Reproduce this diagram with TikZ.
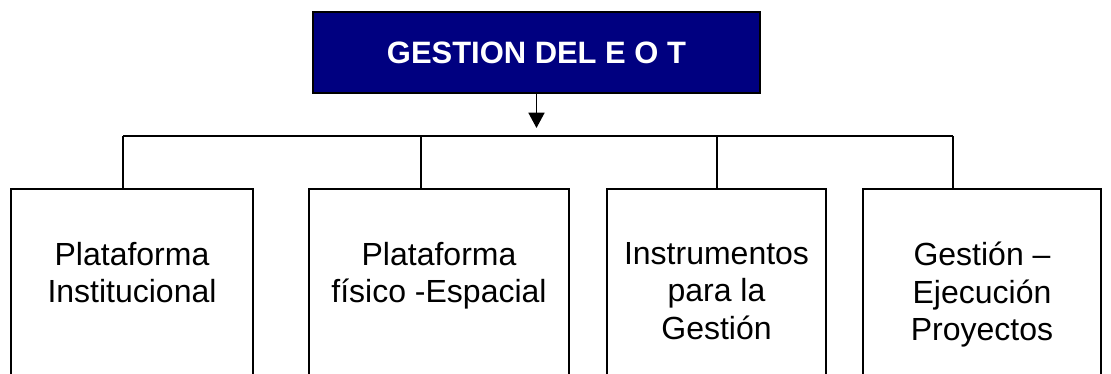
\documentclass[tikz,border=0pt]{standalone}
\usepackage{fontspec}
\setmainfont{Liberation Sans}
\usetikzlibrary{arrows.meta}
\definecolor{navy}{RGB}{0,0,128}

\begin{document}
\begin{tikzpicture}[x=0.75pt,y=-0.75pt,
  linea/.style={line width=1.3pt},
  caja/.style={draw, line width=1.3pt, minimum height=158.25pt, inner sep=0pt},
  texto/.style={anchor=north, align=center, inner sep=0pt, font=\fontsize{24}{28}\selectfont}]
  \useasboundingbox (0,0) rectangle (1111,374);
  \clip (0,0) rectangle (1111,374);

  % titulo
  \node[draw, line width=1.3pt, fill=navy, text=white, minimum width=335.25pt, minimum height=60.75pt,
        font=\fontsize{23.2}{27}\selectfont\bfseries] (G) at (536.5,52.5) {GESTION DEL E O T};
  \coordinate (P) at (536.5,128);
  \draw[linea, -{Triangle[width=12pt,length=11.5pt]}] (G.south) -- (P);

  % cajas
  \node[caja, minimum width=181.5pt] (b1) at (132,294.5) {};
  \node[caja, minimum width=195pt] (b2) at (439,294.5) {};
  \node[caja, minimum width=164.25pt] (b3) at (716.5,294.5) {};
  \node[caja, minimum width=178.5pt] (b4) at (982,294.5) {};

  \node[texto] (t1) at ([yshift=-40.5pt]b1.north) {Plataforma\\Institucional};
  \node[texto] (t2) at ([yshift=-40.5pt]b2.north) {Plataforma\\físico -Espacial};
  \node[texto] (t3) at ([yshift=-40.5pt]b3.north) {Instrumentos\\para la\\Gestión};
  \node[texto] (t4) at ([yshift=-40.5pt]b4.north) {Gestión –\\Ejecución\\Proyectos};

  % lineas
  \coordinate (r1) at (123,136);
  \coordinate (r2) at (421,136);
  \coordinate (r3) at (717,136);
  \coordinate (r4) at (953,136);
  \draw[linea] (r1) -- (r4);
  \foreach \i in {1,...,4}
    \draw[linea] (r\i) -- (r\i |- b\i.north);
\end{tikzpicture}
\end{document}
